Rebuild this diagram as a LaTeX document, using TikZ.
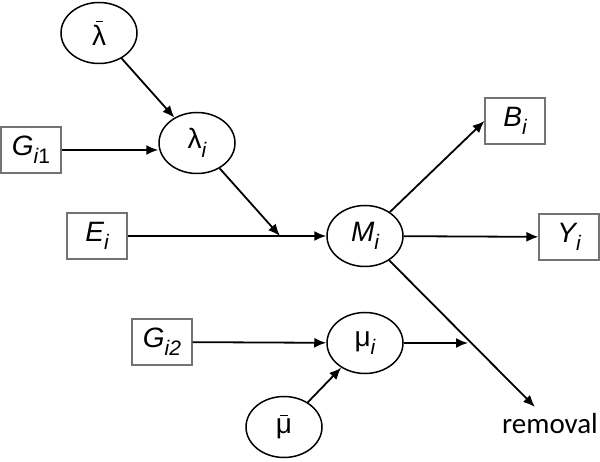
\documentclass[tikz,border=0pt]{standalone}
\usepackage{fontspec}
\setmainfont{Liberation Sans}
\newfontfamily\calib{Carlito}
\usetikzlibrary{arrows.meta,shapes.geometric}
\newcommand\lowsub[1]{\raisebox{-0.3em}{\fontsize{21}{21}\selectfont #1}}
\newcommand\barsym[1]{\setbox0\hbox{#1}\rlap{\hbox to\wd0{\hfil\raisebox{\dimexpr\ht0+2.5pt\relax}{\rule{0.5\wd0}{1.6pt}}\hfil}}\box0}
\tikzset{
  var/.style={ellipse,draw=black,line width=1.5pt,minimum width=76pt,minimum height=61pt,inner sep=0pt,font=\fontsize{28}{28}\selectfont},
  obs/.style={rectangle,draw=black!55,line width=1.1pt,minimum width=60pt,minimum height=46pt,inner sep=0pt,font=\fontsize{28}{28}\selectfont},
  conn/.style={line width=1.8pt,-{Latex[length=12pt,width=10pt]}}
}
\begin{document}
\begin{tikzpicture}[x=1pt,y=-1pt]
\useasboundingbox (0,0) rectangle (600,462);
\node[var] (lbar) at (99,33) {\barsym{λ}};
\node[var] (li) at (197,143) {λ\lowsub{\itshape i}};
\node[obs] (g1) at (31,150) {\itshape G\lowsub{i\upshape 1}};
\node[obs] (e) at (97,236) {\itshape E\lowsub{i}};
\node[var] (m) at (365,236) {\itshape M\lowsub{i}};
\node[obs] (b) at (515,121) {\itshape B\lowsub{i}};
\node[obs] (y) at (569,237) {\itshape Y\lowsub{i}};
\node[var] (mu) at (365,343) {μ\lowsub{\itshape i}};
\node[obs] (g2) at (162,342) {\itshape G\lowsub{i2}};
\node[var] (mubar) at (284,427) {\barsym{μ}};
\node[font=\calib\fontsize{29}{29}\selectfont] (rem) at (550,424) {removal};
\coordinate (j) at (280,236);
\coordinate (remend) at (535,407);
\coordinate (muend) at (468,343);
\draw[conn] (lbar) -- (li);
\draw[conn] (g1.east) -- (g1.east -| li.west);
\draw[conn] (li) -- (j);
\draw[conn] (e) -- (m);
\draw[conn] (m) -- (b.west);
\draw[conn] (m) -- (y);
\draw[conn] (m) -- (remend);
\draw[conn] (g2) -- (mu);
\draw[conn] (mu) -- (muend);
\draw[conn] (mubar) -- (mu);
\end{tikzpicture}
\end{document}
